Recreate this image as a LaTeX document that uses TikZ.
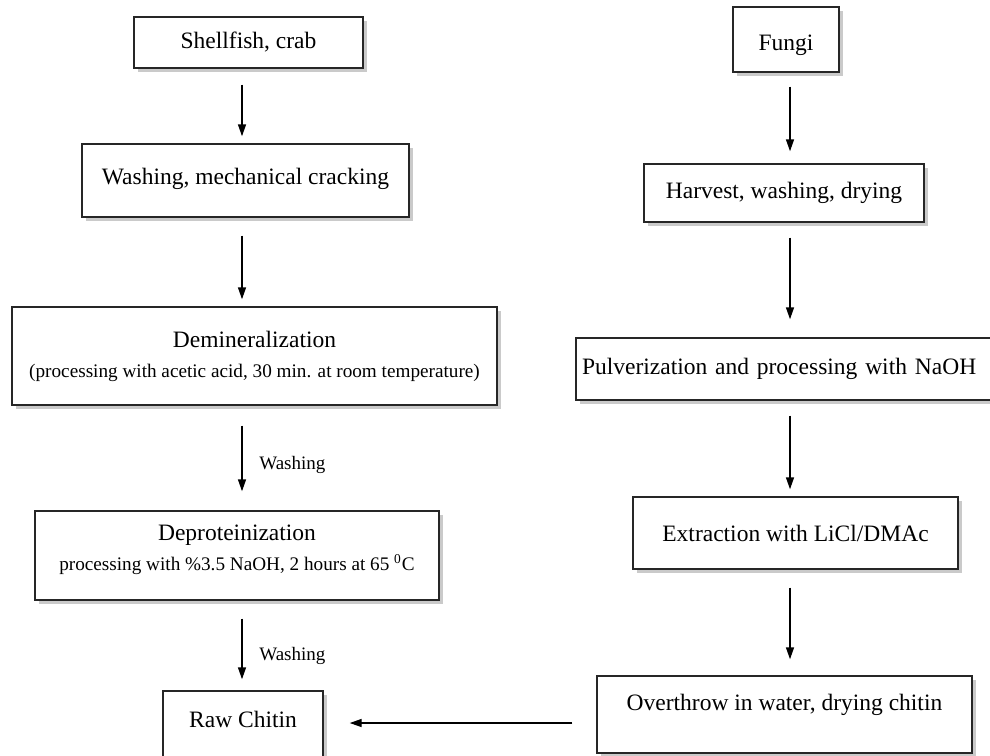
\documentclass[tikz,border=0pt]{standalone}
\usepackage{fontspec}
\setmainfont{Liberation Serif}
\usetikzlibrary{arrows.meta,shadows}

\tikzset{
  box/.style={draw=black!85, line width=0.7pt, fill=white, align=center, inner sep=0pt,
    drop shadow={shadow xshift=1.8pt, shadow yshift=-1.8pt, fill=black!35, opacity=0.6},
    font=\fontsize{11.75}{15}\selectfont},
  arr/.style={line width=0.7pt, -{Triangle[length=6pt,width=4pt]}},
  lbl/.style={font=\fontsize{9.5}{11}\selectfont, anchor=west, xshift=5pt}
}
\newcommand{\subline}[1]{{\fontsize{9.6}{15}\selectfont #1}}

\begin{document}
\begin{tikzpicture}[x=0.5pt,y=-0.5pt]
  \useasboundingbox (0,0) rectangle (990,755);
  \coordinate (colL) at (242,0);
  \coordinate (colR) at (790,0);
  \coordinate (bot) at (0,723);

  % shellfish route
  \node[box, minimum width=114.5pt, minimum height=25.5pt] (shell) at (248.5,42.5) {Shellfish, crab};
  \node[box, minimum width=163.5pt, minimum height=36.5pt, text depth=4.5pt] (wash) at (245.5,180.5) {Washing, mechanical cracking};
  \node[box, minimum width=242.5pt, minimum height=49pt] (demin) at (254.5,356)
    {Demineralization\\ \subline{(processing with acetic acid, 30 min. at room temperature)}};
  \node[box, minimum width=202pt, minimum height=44.5pt, text depth=8pt] (deprot) at (237,555.5)
    {Deproteinization\\ \subline{processing with \%3.5 NaOH, 2 hours at 65 \textsuperscript{0}C}};
  \node[box, minimum width=80pt, minimum height=40pt, text depth=12pt] (raw) at (243,731) {Raw Chitin};

  % fungi route
  \node[box, minimum width=53pt, minimum height=32.5pt, text height=14pt] (fungi) at (786,39.5) {Fungi};
  \node[box, minimum width=140pt, minimum height=29pt] (harv) at (784,193) {Harvest, washing, drying};
  \node[box, inner xsep=3pt, text width=207pt, align=left, minimum height=31pt] (pulv) at (789,369)
    {Pulverization and processing with NaOH};
  \node[box, minimum width=162.5pt, minimum height=36pt] (extr) at (795.5,533) {Extraction with LiCl/DMAc};
  \node[box, minimum width=187.5pt, minimum height=38.5pt, text depth=12pt] (over) at (784.5,714.5)
    {Overthrow in water, drying chitin};

  % arrows
  \draw[arr, shorten <=8pt, shorten >=3.5pt] (shell.south -| colL) -- (wash.north -| colL);
  \draw[arr, shorten <=9pt, shorten >=3.5pt] (wash.south -| colL) -- (demin.north -| colL);
  \draw[arr, shorten <=10pt, shorten >=9.5pt] (demin.south -| colL) -- (deprot.north -| colL)
    node[lbl, pos=0.57] {Washing};
  \draw[arr, shorten <=9pt, shorten >=5.5pt] (deprot.south -| colL) -- (raw.north -| colL)
    node[lbl, pos=0.62] {Washing};

  \draw[arr, shorten <=7pt, shorten >=6pt] (fungi.south -| colR) -- (harv.north -| colR);
  \draw[arr, shorten <=7.5pt, shorten >=9pt] (harv.south -| colR) -- (pulv.north -| colR);
  \draw[arr, shorten <=7.5pt, shorten >=3.5pt] (pulv.south -| colR) -- (extr.north -| colR);
  \draw[arr, shorten <=9pt, shorten >=8pt] (extr.south -| colR) -- (over.north -| colR);

  \draw[arr, shorten <=12pt, shorten >=13pt] (over.west |- bot) -- (raw.east |- bot);
\end{tikzpicture}
\end{document}
